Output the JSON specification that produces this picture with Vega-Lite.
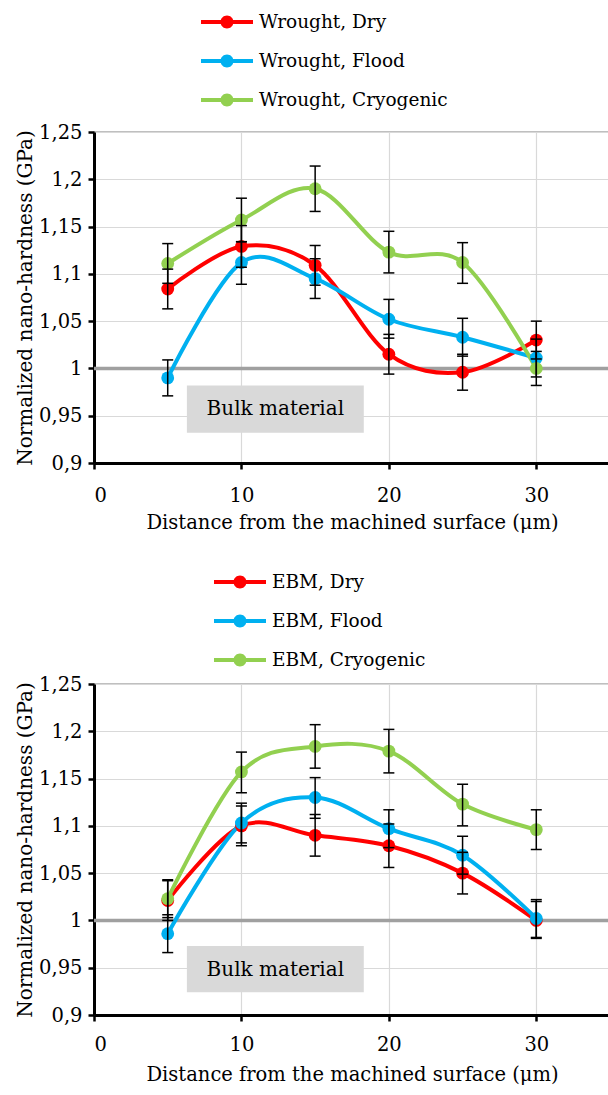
{
  "$schema": "https://vega.github.io/schema/vega-lite/v6.json",
  "background": "white",
  "padding": {"left": 14, "top": 11, "right": 0, "bottom": 4},
  "spacing": 38,
  "config": {
    "font": "DejaVu Serif",
    "view": {"stroke": "black", "strokeWidth": 1.2},
    "axis": {
      "labelFont": "DejaVu Serif", "labelFontSize": 19.5, "labelColor": "black",
      "titleFont": "DejaVu Serif", "titleFontSize": 20, "titleFontWeight": "normal", "titleColor": "black",
      "gridColor": "#d9d9d9", "gridWidth": 1.2,
      "domainColor": "black", "domainWidth": 3,
      "tickColor": "black", "tickWidth": 2.5, "tickSize": 6
    },
    "legend": {
      "orient": "none", "direction": "vertical", "padding": 0,
      "labelFont": "DejaVu Serif", "labelFontSize": 18.5, "labelColor": "black", "labelOffset": 22, "labelLimit": 400,
      "rowPadding": 19, "symbolSize": 400, "symbolStrokeWidth": 0,
      "symbolType": "M-2.6,-0.2L-0.6,-0.2L-0.6,0.2L-2.6,0.2Z M0.6,-0.2L2.6,-0.2L2.6,0.2L0.6,0.2Z M0.65,0A0.65,0.65,0,1,1,-0.65,0A0.65,0.65,0,1,1,0.65,0Z"
    }
  },
  "datasets": {
    "wrought": [
      {"s": "Wrought, Dry", "x": 5, "v": 1.084, "lo": 1.063, "hi": 1.105},
      {"s": "Wrought, Dry", "x": 10, "v": 1.129, "lo": 1.107, "hi": 1.151},
      {"s": "Wrought, Dry", "x": 15, "v": 1.109, "lo": 1.088, "hi": 1.130},
      {"s": "Wrought, Dry", "x": 20, "v": 1.015, "lo": 0.994, "hi": 1.036},
      {"s": "Wrought, Dry", "x": 25, "v": 0.996, "lo": 0.977, "hi": 1.015},
      {"s": "Wrought, Dry", "x": 30, "v": 1.030, "lo": 1.010, "hi": 1.050},
      {"s": "Wrought, Flood", "x": 5, "v": 0.990, "lo": 0.971, "hi": 1.009},
      {"s": "Wrought, Flood", "x": 10, "v": 1.112, "lo": 1.089, "hi": 1.134},
      {"s": "Wrought, Flood", "x": 15, "v": 1.095, "lo": 1.074, "hi": 1.116},
      {"s": "Wrought, Flood", "x": 20, "v": 1.052, "lo": 1.032, "hi": 1.073},
      {"s": "Wrought, Flood", "x": 25, "v": 1.033, "lo": 1.013, "hi": 1.053},
      {"s": "Wrought, Flood", "x": 30, "v": 1.011, "lo": 0.991, "hi": 1.031},
      {"s": "Wrought, Cryogenic", "x": 5, "v": 1.111, "lo": 1.090, "hi": 1.132},
      {"s": "Wrought, Cryogenic", "x": 10, "v": 1.157, "lo": 1.134, "hi": 1.180},
      {"s": "Wrought, Cryogenic", "x": 15, "v": 1.190, "lo": 1.166, "hi": 1.214},
      {"s": "Wrought, Cryogenic", "x": 20, "v": 1.123, "lo": 1.101, "hi": 1.145},
      {"s": "Wrought, Cryogenic", "x": 25, "v": 1.112, "lo": 1.090, "hi": 1.133},
      {"s": "Wrought, Cryogenic", "x": 30, "v": 1.000, "lo": 0.982, "hi": 1.018}
    ],
    "ebm": [
      {"s": "EBM, Dry", "x": 5, "v": 1.021, "lo": 1.000, "hi": 1.042},
      {"s": "EBM, Dry", "x": 10, "v": 1.100, "lo": 1.079, "hi": 1.121},
      {"s": "EBM, Dry", "x": 15, "v": 1.090, "lo": 1.068, "hi": 1.112},
      {"s": "EBM, Dry", "x": 20, "v": 1.079, "lo": 1.056, "hi": 1.102},
      {"s": "EBM, Dry", "x": 25, "v": 1.050, "lo": 1.028, "hi": 1.072},
      {"s": "EBM, Dry", "x": 30, "v": 1.000, "lo": 0.981, "hi": 1.020},
      {"s": "EBM, Flood", "x": 5, "v": 0.986, "lo": 0.966, "hi": 1.006},
      {"s": "EBM, Flood", "x": 10, "v": 1.103, "lo": 1.082, "hi": 1.124},
      {"s": "EBM, Flood", "x": 15, "v": 1.130, "lo": 1.108, "hi": 1.151},
      {"s": "EBM, Flood", "x": 20, "v": 1.097, "lo": 1.077, "hi": 1.117},
      {"s": "EBM, Flood", "x": 25, "v": 1.069, "lo": 1.049, "hi": 1.089},
      {"s": "EBM, Flood", "x": 30, "v": 1.002, "lo": 0.982, "hi": 1.022},
      {"s": "EBM, Cryogenic", "x": 5, "v": 1.023, "lo": 1.003, "hi": 1.043},
      {"s": "EBM, Cryogenic", "x": 10, "v": 1.157, "lo": 1.135, "hi": 1.178},
      {"s": "EBM, Cryogenic", "x": 15, "v": 1.184, "lo": 1.161, "hi": 1.207},
      {"s": "EBM, Cryogenic", "x": 20, "v": 1.179, "lo": 1.156, "hi": 1.202},
      {"s": "EBM, Cryogenic", "x": 25, "v": 1.123, "lo": 1.100, "hi": 1.144},
      {"s": "EBM, Cryogenic", "x": 30, "v": 1.096, "lo": 1.075, "hi": 1.117}
    ]
  },
  "resolve": {"scale": {"color": "independent"}, "legend": {"color": "independent"}},
  "vconcat": [
    {
      "width": 516, "height": 331,
      "layer": [
        {
          "data": {"values": [{"x": 6.3, "x2": 18.3, "v": 0.982, "v2": 0.932}]},
          "mark": {"type": "rect", "fill": "#d9d9d9"},
          "encoding": {
            "x": {"field": "x", "type": "quantitative", "scale": {"domain": [0, 35], "nice": false}, "title": "Distance from the machined surface (μm)"},
            "x2": {"field": "x2"},
            "y": {"field": "v", "type": "quantitative", "scale": {"domain": [0.9, 1.25], "nice": false}, "title": "Normalized nano-hardness (GPa)"},
            "y2": {"field": "v2"}
          }
        },
        {
          "data": {"values": [{"x": 12.3, "v": 0.957, "t": "Bulk material"}]},
          "mark": {"type": "text", "fontSize": 20, "color": "black", "font": "DejaVu Serif"},
          "encoding": {
            "x": {"field": "x", "type": "quantitative", "title": "Distance from the machined surface (μm)"},
            "y": {"field": "v", "type": "quantitative", "title": "Normalized nano-hardness (GPa)"},
            "text": {"field": "t"}
          }
        },
        {
          "data": {"values": [{"v": 1}]},
          "mark": {"type": "rule", "color": "#a0a0a0", "strokeWidth": 3.5},
          "encoding": {
            "y": {"field": "v", "type": "quantitative", "title": "Normalized nano-hardness (GPa)"}
          }
        },
        {
          "data": {"name": "wrought"},
          "mark": {"type": "line", "interpolate": "cardinal", "strokeWidth": 4},
          "encoding": {
            "x": {"field": "x", "type": "quantitative", "scale": {"domain": [0, 35], "nice": false}, "title": "Distance from the machined surface (μm)",
              "axis": {"values": [0, 10, 20, 30], "grid": true, "labelPadding": 17, "titlePadding": 9, "titleFontSize": 19.5}},
            "y": {"field": "v", "type": "quantitative", "scale": {"domain": [0.9, 1.25], "nice": false}, "title": "Normalized nano-hardness (GPa)",
              "axis": {"values": [0.9, 0.95, 1, 1.05, 1.1, 1.15, 1.2, 1.25], "grid": true, "labelPadding": 6, "titlePadding": 3,
                "labelExpr": "replace(format(datum.value, '.2~f'), '.', ',')"}},
            "color": {"field": "s", "type": "nominal",
              "scale": {"domain": ["Wrought, Dry", "Wrought, Flood", "Wrought, Cryogenic"], "range": ["#ff0000", "#00b0f0", "#92d050"]},
              "legend": {"title": null, "legendX": 123, "legendY": -120}}
          }
        },
        {
          "data": {"name": "wrought"},
          "mark": {"type": "point", "filled": true, "size": 165, "opacity": 1, "shape": "circle"},
          "encoding": {
            "x": {"field": "x", "type": "quantitative", "title": "Distance from the machined surface (μm)"},
            "y": {"field": "v", "type": "quantitative", "title": "Normalized nano-hardness (GPa)"},
            "color": {"field": "s", "type": "nominal",
              "scale": {"domain": ["Wrought, Dry", "Wrought, Flood", "Wrought, Cryogenic"], "range": ["#ff0000", "#00b0f0", "#92d050"]},
              "legend": {"title": null, "legendX": 123, "legendY": -120}}
          }
        },
        {
          "data": {"name": "wrought"},
          "mark": {"type": "rule", "color": "black", "strokeWidth": 1.5},
          "encoding": {
            "x": {"field": "x", "type": "quantitative", "title": "Distance from the machined surface (μm)"},
            "y": {"field": "lo", "type": "quantitative", "title": "Normalized nano-hardness (GPa)"},
            "y2": {"field": "hi"}
          }
        },
        {
          "data": {"name": "wrought"},
          "mark": {"type": "tick", "orient": "horizontal", "size": 11, "thickness": 1.5, "color": "black", "opacity": 1},
          "encoding": {
            "x": {"field": "x", "type": "quantitative", "title": "Distance from the machined surface (μm)"},
            "y": {"field": "lo", "type": "quantitative", "title": "Normalized nano-hardness (GPa)"}
          }
        },
        {
          "data": {"name": "wrought"},
          "mark": {"type": "tick", "orient": "horizontal", "size": 11, "thickness": 1.5, "color": "black", "opacity": 1},
          "encoding": {
            "x": {"field": "x", "type": "quantitative", "title": "Distance from the machined surface (μm)"},
            "y": {"field": "hi", "type": "quantitative", "title": "Normalized nano-hardness (GPa)"}
          }
        }
      ]
    },
    {
      "width": 516, "height": 331,
      "layer": [
        {
          "data": {"values": [{"x": 6.3, "x2": 18.3, "v": 0.973, "v2": 0.924}]},
          "mark": {"type": "rect", "fill": "#d9d9d9"},
          "encoding": {
            "x": {"field": "x", "type": "quantitative", "scale": {"domain": [0, 35], "nice": false}, "title": "Distance from the machined surface (μm)"},
            "x2": {"field": "x2"},
            "y": {"field": "v", "type": "quantitative", "scale": {"domain": [0.9, 1.25], "nice": false}, "title": "Normalized nano-hardness (GPa)"},
            "y2": {"field": "v2"}
          }
        },
        {
          "data": {"values": [{"x": 12.3, "v": 0.948, "t": "Bulk material"}]},
          "mark": {"type": "text", "fontSize": 20, "color": "black", "font": "DejaVu Serif"},
          "encoding": {
            "x": {"field": "x", "type": "quantitative", "title": "Distance from the machined surface (μm)"},
            "y": {"field": "v", "type": "quantitative", "title": "Normalized nano-hardness (GPa)"},
            "text": {"field": "t"}
          }
        },
        {
          "data": {"values": [{"v": 1}]},
          "mark": {"type": "rule", "color": "#a0a0a0", "strokeWidth": 3.5},
          "encoding": {
            "y": {"field": "v", "type": "quantitative", "title": "Normalized nano-hardness (GPa)"}
          }
        },
        {
          "data": {"name": "ebm"},
          "mark": {"type": "line", "interpolate": "cardinal", "strokeWidth": 4},
          "encoding": {
            "x": {"field": "x", "type": "quantitative", "scale": {"domain": [0, 35], "nice": false}, "title": "Distance from the machined surface (μm)",
              "axis": {"values": [0, 10, 20, 30], "grid": true, "labelPadding": 14, "titlePadding": 12, "titleFontSize": 19.5}},
            "y": {"field": "v", "type": "quantitative", "scale": {"domain": [0.9, 1.25], "nice": false}, "title": "Normalized nano-hardness (GPa)",
              "axis": {"values": [0.9, 0.95, 1, 1.05, 1.1, 1.15, 1.2, 1.25], "grid": true, "labelPadding": 6, "titlePadding": 3,
                "labelExpr": "replace(format(datum.value, '.2~f'), '.', ',')"}},
            "color": {"field": "s", "type": "nominal",
              "scale": {"domain": ["EBM, Dry", "EBM, Flood", "EBM, Cryogenic"], "range": ["#ff0000", "#00b0f0", "#92d050"]},
              "legend": {"title": null, "legendX": 136, "legendY": -112}}
          }
        },
        {
          "data": {"name": "ebm"},
          "mark": {"type": "point", "filled": true, "size": 165, "opacity": 1, "shape": "circle"},
          "encoding": {
            "x": {"field": "x", "type": "quantitative", "title": "Distance from the machined surface (μm)"},
            "y": {"field": "v", "type": "quantitative", "title": "Normalized nano-hardness (GPa)"},
            "color": {"field": "s", "type": "nominal",
              "scale": {"domain": ["EBM, Dry", "EBM, Flood", "EBM, Cryogenic"], "range": ["#ff0000", "#00b0f0", "#92d050"]},
              "legend": {"title": null, "legendX": 136, "legendY": -112}}
          }
        },
        {
          "data": {"name": "ebm"},
          "mark": {"type": "rule", "color": "black", "strokeWidth": 1.5},
          "encoding": {
            "x": {"field": "x", "type": "quantitative", "title": "Distance from the machined surface (μm)"},
            "y": {"field": "lo", "type": "quantitative", "title": "Normalized nano-hardness (GPa)"},
            "y2": {"field": "hi"}
          }
        },
        {
          "data": {"name": "ebm"},
          "mark": {"type": "tick", "orient": "horizontal", "size": 11, "thickness": 1.5, "color": "black", "opacity": 1},
          "encoding": {
            "x": {"field": "x", "type": "quantitative", "title": "Distance from the machined surface (μm)"},
            "y": {"field": "lo", "type": "quantitative", "title": "Normalized nano-hardness (GPa)"}
          }
        },
        {
          "data": {"name": "ebm"},
          "mark": {"type": "tick", "orient": "horizontal", "size": 11, "thickness": 1.5, "color": "black", "opacity": 1},
          "encoding": {
            "x": {"field": "x", "type": "quantitative", "title": "Distance from the machined surface (μm)"},
            "y": {"field": "hi", "type": "quantitative", "title": "Normalized nano-hardness (GPa)"}
          }
        }
      ]
    }
  ]
}
